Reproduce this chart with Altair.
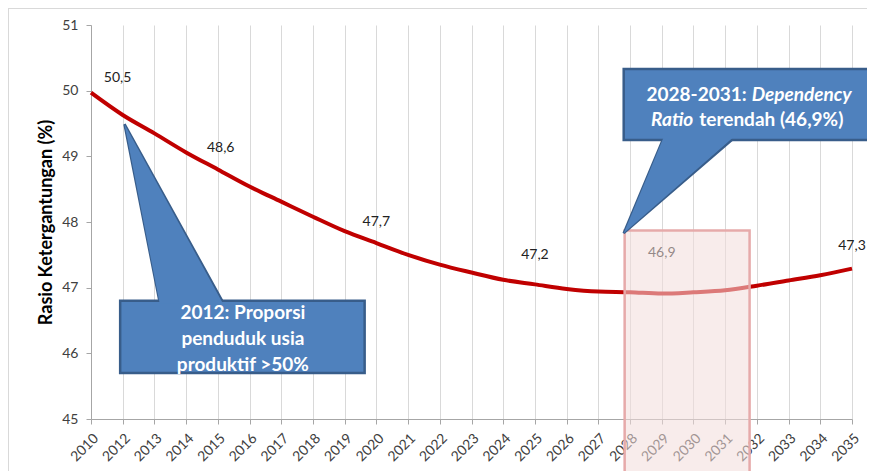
import altair as alt
import pandas as pd

# ---- data ----
years = ["2010", "2012", "2013", "2014", "2015", "2016", "2017", "2018", "2019",
         "2020", "2021", "2022", "2023", "2024", "2025", "2026", "2027", "2028",
         "2029", "2030", "2031", "2032", "2033", "2034", "2035"]
ratio = [49.97, 49.63, 49.35, 49.06, 48.80, 48.54, 48.31, 48.08, 47.86,
         47.68, 47.50, 47.35, 47.23, 47.12, 47.05, 46.98, 46.94, 46.93,
         46.91, 46.93, 46.96, 47.03, 47.11, 47.19, 47.29]
y_ticks = [45, 46, 47, 48, 49, 50, 51]

label_text = ["50,5", "48,6", "47,7", "47,2", "46,9", "47,3"]
label_x = [0.84, 4.09, 9.0, 14.0, 18.0, 24.0]
label_y = [50.19, 49.13, 48.0, 47.50, 47.53, 47.63]

df = pd.DataFrame({"idx": list(range(len(years))), "year": years, "ratio": ratio})
labels = pd.DataFrame({"x": label_x, "y": label_y, "t": label_text})

XS = alt.Scale(domain=[0, 24], nice=False, zero=False)
YS = alt.Scale(domain=[45, 51], nice=False, zero=False)

years_js = "[" + ",".join("'" + y + "'" for y in years) + "]"

XA = alt.Axis(values=list(range(25)), labelExpr=years_js + "[datum.value]",
              title=None, grid=True, gridColor="#d9d9d9", labelAngle=315,
              labelFontSize=14, labelColor="#404040", domainColor="#a6a6a6",
              tickColor="#a6a6a6", tickSize=5, labelPadding=7,
              labelFont="Lato", labelOverlap=False, labelBound=False)
YA = alt.Axis(values=y_ticks, grid=False, format="d",
              title="Rasio Ketergantungan (%)", titleFont="Lato",
              titleFontSize=18, titleFontWeight="bold", titleColor="#000000",
              titlePadding=6, labelFontSize=14, labelColor="#404040",
              labelFont="Lato", domainColor="#a6a6a6", tickColor="#a6a6a6",
              tickSize=5, labelPadding=8)


def X(f):
    return alt.X(f, scale=XS, axis=XA)


def Y(f):
    return alt.Y(f, scale=YS, axis=YA)


line = alt.Chart(df).mark_line(color="#c00000", strokeWidth=4, interpolate="monotone").encode(
    x=X("idx:Q"), y=Y("ratio:Q"))

text = alt.Chart(labels).mark_text(font="Lato", fontSize=14, color="#222222").encode(
    x=X("x:Q"), y=Y("y:Q"), text="t:N")

# highlighted period 2028-2031
box_df = pd.DataFrame({"x": [16.83], "x2": [20.77], "y": [47.87], "y2": [43.9]})
box = alt.Chart(box_df).mark_rect(fill="#f2dcdb", fillOpacity=0.55, stroke="#e6aaaa",
                                  strokeWidth=2.5, strokeOpacity=1).encode(
    x=X("x:Q"), x2="x2:Q", y=Y("y:Q"), y2="y2:Q")

FILL = "#4f81bd"
EDGE = "#385d8a"

# callout 1
p1 = pd.DataFrame({"y": [49.49, 46.79], "x": [1.057, 2.16], "x2": [1.057, 4.15]})
p1b = pd.DataFrame({"y": [49.49, 46.76], "x": [1.057, 2.165], "x2": [1.057, 4.16]})
r1 = pd.DataFrame({"x": [0.92], "x2": [8.63], "y": [46.80], "y2": [45.70]})
t1 = pd.DataFrame({"x": [4.79, 4.79, 4.79], "y": [46.61, 46.22, 45.82],
                   "t": ["2012: Proporsi", "penduduk usia", "produktif >50%"]})

# callout 2
p2 = pd.DataFrame({"y": [47.83, 49.25], "x": [16.80, 18.03], "x2": [16.80, 20.21]})
p2b = pd.DataFrame({"y": [47.83, 49.28], "x": [16.80, 18.05], "x2": [16.80, 20.23]})
r2 = pd.DataFrame({"x": [16.80], "x2": [25.2], "y": [50.33], "y2": [49.25]})
t2a = pd.DataFrame({"x": [20.74], "y": [49.93], "t": ["2028-2031:"]})
t2b = pd.DataFrame({"x": [20.74], "y": [49.93], "t": ["Dependency"]})
t2c = pd.DataFrame({"x": [19.09], "y": [49.55], "t": ["Ratio"]})
t2d = pd.DataFrame({"x": [19.09], "y": [49.55], "t": ["terendah (46,9%)"]})


def pointer(d, stroke=True):
    kw = dict(orient="horizontal", color=FILL, opacity=1)
    if stroke:
        kw.update(stroke=EDGE, strokeWidth=2.5, strokeJoin="miter")
    return alt.Chart(d).mark_area(**kw).encode(
        y=Y("y:Q"), x=X("x:Q"), x2="x2:Q")


def crect(d):
    return alt.Chart(d).mark_rect(fill=FILL, stroke=EDGE, strokeWidth=2.5).encode(
        x=X("x:Q"), x2="x2:Q", y=Y("y:Q"), y2="y2:Q")


def ctext(d, align="center", style="normal", dx=0):
    return alt.Chart(d).mark_text(font="Lato", fontSize=19, fontWeight="bold",
                                  fontStyle=style, color="white", align=align,
                                  dx=dx).encode(
        x=X("x:Q"), y=Y("y:Q"), text="t:N")


frame = alt.Chart(df).mark_rect(fillOpacity=0, stroke="#d9d9d9", strokeWidth=1).encode(
    x=alt.value(-82.5), x2=alt.value(900), y=alt.value(-16.5), y2=alt.value(600))

chart = alt.layer(
    line, frame, text, box,
    pointer(p1), crect(r1), pointer(p1b, stroke=False), ctext(t1),
    pointer(p2), crect(r2), pointer(p2b, stroke=False),
    ctext(t2a, align="right", dx=-2), ctext(t2b, align="left", style="italic", dx=3),
    ctext(t2c, align="right", style="italic", dx=-3), ctext(t2d, align="left", dx=3),
).properties(
    width=761, height=394,
    autosize=alt.AutoSizeParams(type="none"),
    padding={"left": 83, "top": 17, "right": 15, "bottom": 52},
    background="white",
).configure_view(stroke=None)

chart.save("out.html", embed_options={"renderer": "svg", "actions": False})
